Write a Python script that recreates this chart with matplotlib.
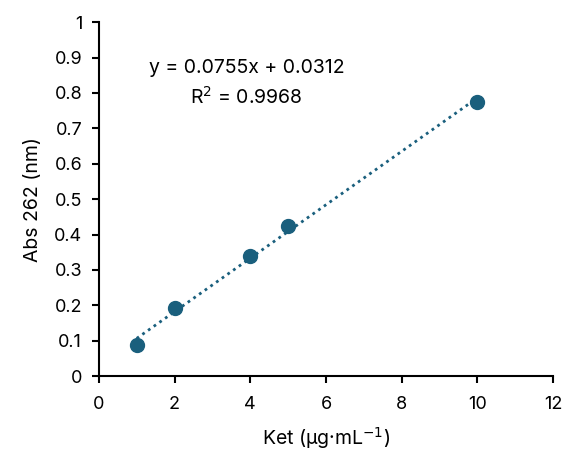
import numpy as np
import matplotlib.pyplot as plt

# calibration data
ket = [1, 2, 4, 5, 10]
absorb = [0.088, 0.192, 0.339, 0.423, 0.774]
slope, intercept = 0.0755, 0.0312

plt.rcParams['font.family'] = 'Inter'
plt.rcParams['font.size'] = 13

fig = plt.figure(figsize=(5.68, 4.61), dpi=100)
ax = fig.add_axes([0.174, 0.184, 0.80, 0.768])

col = '#1a5f7d'
xfit = np.array([ket[0], ket[-1]])
ax.plot(xfit, slope * xfit + intercept, linestyle=(0, (1, 1.5)), color=col, linewidth=2.0)
ax.scatter(ket, absorb, s=100, color=col, zorder=3)

ax.text(3.9, 0.87, "y = 0.0755x + 0.0312", ha='center', va='center', fontsize=14)
ax.text(3.9, 0.79, "R$^2$ = 0.9968", ha='center', va='center', fontsize=14)

ax.set_xlim(0, 12)
ax.set_ylim(0, 1)
ax.set_xticks(np.arange(0, 13, 2))
ax.set_yticks(np.arange(0, 1.01, 0.1))
ax.set_yticklabels(['0', '0.1', '0.2', '0.3', '0.4', '0.5', '0.6', '0.7', '0.8', '0.9', '1'])
ax.spines['top'].set_visible(False)
ax.spines['right'].set_visible(False)
ax.spines['left'].set_linewidth(1.5)
ax.spines['bottom'].set_linewidth(1.5)
ax.tick_params(width=1.5, length=5)
ax.tick_params(axis='x', pad=9)
ax.tick_params(axis='y', pad=7)

ax.set_xlabel("Ket (µg·mL$^{-1}$)", fontsize=14, labelpad=9)
ax.set_ylabel("Abs 262 (nm)", fontsize=14, labelpad=9)

fig.savefig("out.png", dpi=100)
